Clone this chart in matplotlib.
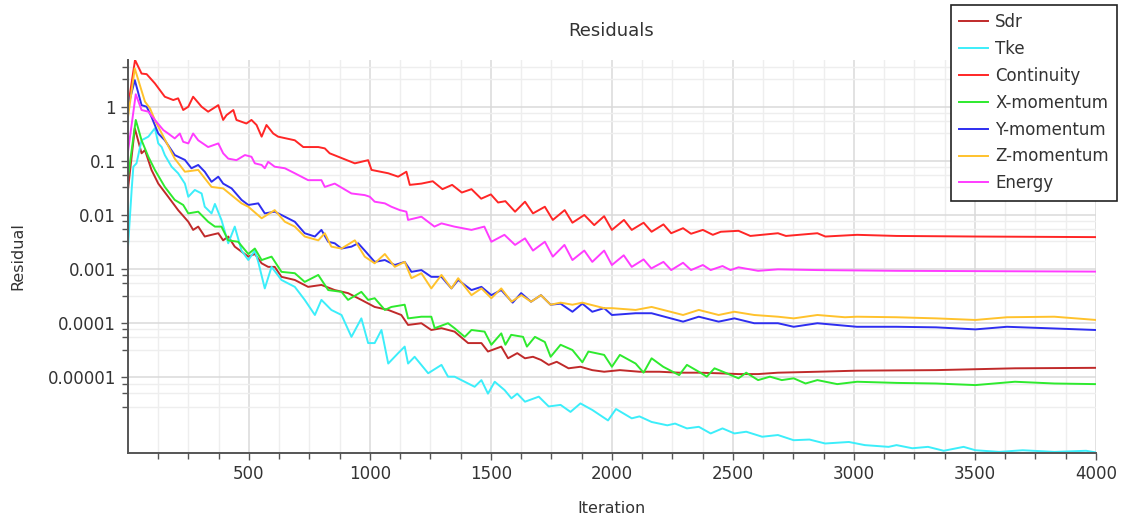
import matplotlib
matplotlib.use("Agg")
import matplotlib.pyplot as plt
from matplotlib.ticker import FixedLocator, NullFormatter

# (iteration, residual) samples for each monitored quantity
sdr = [(1, 0.03), (29, 0.40), (57, 0.138), (71, 0.158), (98, 0.068), (126, 0.038), (167, 0.0217),
       (208, 0.0123), (250, 0.0075), (270, 0.0053), (291, 0.0061), (318, 0.0040), (346, 0.0043),
       (374, 0.0046), (394, 0.0034), (415, 0.0040), (442, 0.0026), (470, 0.0021), (498, 0.0017),
       (525, 0.0019), (553, 0.00128), (580, 0.0011), (607, 0.0011), (635, 0.00072), (690, 0.00063),
       (745, 0.00047), (800, 0.00051), (855, 0.00041), (910, 0.00036), (965, 0.00027), (1020, 0.0002),
       (1076, 0.000176), (1130, 0.000142), (1158, 9.3e-5), (1213, 1.0e-4), (1254, 7.5e-5),
       (1296, 8.1e-5), (1350, 7.0e-5), (1406, 4.3e-5), (1461, 4.3e-5), (1488, 3.0e-5),
       (1543, 3.7e-5), (1571, 2.25e-5), (1609, 2.8e-5), (1641, 2.25e-5), (1674, 2.4e-5),
       (1707, 2.1e-5), (1739, 1.7e-5), (1772, 1.94e-5), (1821, 1.47e-5), (1870, 1.57e-5),
       (1919, 1.36e-5), (1968, 1.27e-5), (2033, 1.36e-5), (2114, 1.27e-5), (2196, 1.27e-5),
       (2278, 1.22e-5), (2359, 1.22e-5), (2441, 1.19e-5), (2523, 1.15e-5), (2604, 1.15e-5),
       (2686, 1.22e-5), (2849, 1.27e-5), (3013, 1.33e-5), (3339, 1.36e-5), (3665, 1.47e-5),
       (4000, 1.5e-5)]

tke = [(1, 0.0026), (16, 0.029), (23, 0.078), (36, 0.09), (57, 0.24), (85, 0.28), (112, 0.40),
       (126, 0.21), (140, 0.18), (153, 0.128), (181, 0.078), (208, 0.059), (236, 0.038),
       (250, 0.0217), (277, 0.029), (305, 0.025), (318, 0.0142), (346, 0.0107), (360, 0.016),
       (387, 0.0081), (415, 0.0030), (442, 0.0061), (470, 0.0022), (498, 0.00147), (525, 0.0022),
       (539, 0.00136), (566, 0.00044), (594, 0.0011), (635, 0.00063), (690, 0.00047),
       (731, 0.00027), (773, 0.000142), (800, 0.00027), (841, 0.000176), (883, 0.000142),
       (924, 5.6e-5), (965, 0.000123), (993, 4.3e-5), (1020, 4.3e-5), (1048, 7.5e-5),
       (1076, 1.8e-5), (1117, 2.8e-5), (1144, 3.7e-5), (1158, 1.8e-5), (1185, 2.4e-5),
       (1241, 1.19e-5), (1296, 1.7e-5), (1323, 1.03e-5), (1350, 1.03e-5), (1433, 6.7e-6),
       (1461, 8.9e-6), (1488, 5.0e-6), (1516, 8.3e-6), (1557, 5.8e-6), (1585, 4.1e-6),
       (1609, 5.0e-6), (1641, 3.55e-6), (1698, 4.4e-6), (1739, 2.9e-6), (1788, 3.1e-6),
       (1829, 2.3e-6), (1870, 3.3e-6), (1919, 2.5e-6), (1984, 1.6e-6), (2017, 2.6e-6),
       (2082, 1.75e-6), (2114, 1.9e-6), (2164, 1.5e-6), (2229, 1.3e-6), (2261, 1.4e-6),
       (2310, 1.14e-6), (2359, 1.22e-6), (2408, 9.2e-7), (2457, 1.14e-6), (2506, 9.2e-7),
       (2555, 9.9e-7), (2621, 8.0e-7), (2686, 8.6e-7), (2751, 6.9e-7), (2816, 7.1e-7),
       (2881, 6.0e-7), (2979, 6.4e-7), (3045, 5.6e-7), (3143, 5.2e-7), (3176, 5.6e-7),
       (3241, 4.9e-7), (3306, 5.2e-7), (3371, 4.4e-7), (3453, 5.2e-7), (3502, 4.5e-7),
       (3600, 4.2e-7), (3697, 4.5e-7), (3828, 4.2e-7), (3959, 4.4e-7), (4000, 4.1e-7)]

continuity = [(1, 1.0), (30, 7.3), (57, 4.1), (78, 4.0), (112, 2.7), (153, 1.53), (188, 1.33),
              (208, 1.43), (229, 0.87), (250, 1.0), (270, 1.53), (305, 1.0), (332, 0.81),
              (353, 0.93), (374, 1.07), (394, 0.57), (408, 0.70), (436, 0.87), (449, 0.57),
              (490, 0.49), (511, 0.57), (532, 0.46), (553, 0.28), (573, 0.46), (601, 0.32),
              (621, 0.28), (690, 0.24), (725, 0.18), (787, 0.18), (814, 0.17), (834, 0.138),
              (938, 0.09), (993, 0.103), (1007, 0.068), (1076, 0.059), (1117, 0.051),
              (1151, 0.063), (1165, 0.036), (1213, 0.038), (1260, 0.042), (1300, 0.030),
              (1340, 0.036), (1380, 0.026), (1420, 0.030), (1460, 0.020), (1500, 0.024),
              (1530, 0.017), (1560, 0.018), (1600, 0.0115), (1641, 0.0176), (1674, 0.0107),
              (1723, 0.0142), (1756, 0.0081), (1805, 0.0123), (1837, 0.0072), (1886, 0.0100),
              (1927, 0.0065), (1968, 0.0095), (2000, 0.0053), (2050, 0.0081), (2082, 0.0053),
              (2131, 0.0072), (2164, 0.0049), (2213, 0.0067), (2245, 0.0046), (2294, 0.0057),
              (2327, 0.0045), (2376, 0.0053), (2417, 0.0043), (2450, 0.0049), (2523, 0.0051),
              (2572, 0.0041), (2686, 0.0046), (2719, 0.0041), (2849, 0.0046), (2882, 0.0040),
              (3013, 0.0043), (3176, 0.0041), (3502, 0.0040), (4000, 0.0039)]

x_momentum = [(1, 0.05), (33, 0.57), (57, 0.24), (85, 0.119), (112, 0.068), (153, 0.033),
              (194, 0.019), (229, 0.0153), (250, 0.0107), (291, 0.0115), (332, 0.0075),
              (360, 0.0061), (387, 0.0061), (415, 0.0034), (456, 0.0032), (498, 0.0019),
              (525, 0.0024), (553, 0.00147), (594, 0.0017), (635, 0.00089), (690, 0.00084),
              (731, 0.00058), (787, 0.00078), (828, 0.00041), (883, 0.00038), (910, 0.00027),
              (965, 0.00038), (993, 0.00027), (1020, 0.00029), (1062, 0.000176), (1089, 0.0002),
              (1144, 0.00022), (1158, 0.000123), (1213, 0.000132), (1254, 0.000132),
              (1268, 8.1e-5), (1323, 1.0e-4), (1350, 8.1e-5), (1392, 5.6e-5), (1420, 7.5e-5),
              (1474, 7.0e-5), (1502, 4.0e-5), (1543, 6.5e-5), (1560, 4.0e-5), (1584, 6.1e-5),
              (1633, 5.6e-5), (1649, 3.7e-5), (1682, 5.6e-5), (1723, 4.5e-5), (1747, 2.4e-5),
              (1788, 4.0e-5), (1837, 3.2e-5), (1878, 1.9e-5), (1903, 3.0e-5), (1968, 2.6e-5),
              (2000, 1.57e-5), (2033, 2.6e-5), (2098, 1.8e-5), (2131, 1.22e-5), (2164, 2.25e-5),
              (2212, 1.57e-5), (2278, 1.1e-5), (2310, 1.7e-5), (2359, 1.27e-5), (2392, 1.03e-5),
              (2424, 1.47e-5), (2474, 1.19e-5), (2523, 9.6e-6), (2555, 1.22e-5), (2604, 8.9e-6),
              (2653, 1.03e-5), (2702, 8.9e-6), (2751, 9.6e-6), (2800, 7.7e-6), (2849, 8.9e-6),
              (2931, 7.5e-6), (3013, 8.3e-6), (3176, 7.9e-6), (3339, 7.7e-6), (3502, 7.2e-6),
              (3665, 8.3e-6), (3828, 7.7e-6), (4000, 7.5e-6)]

y_momentum = [(1, 1.0), (29, 3.1), (57, 1.07), (78, 1.0), (98, 0.65), (126, 0.32), (153, 0.24),
              (194, 0.128), (236, 0.104), (263, 0.073), (291, 0.084), (318, 0.063), (346, 0.041),
              (374, 0.051), (394, 0.038), (429, 0.031), (470, 0.019), (498, 0.0153),
              (539, 0.0164), (566, 0.0107), (607, 0.0115), (635, 0.010), (690, 0.0075),
              (731, 0.0046), (773, 0.0040), (800, 0.0053), (828, 0.0032), (855, 0.0030),
              (883, 0.0024), (924, 0.0026), (952, 0.0030), (979, 0.0022), (1020, 0.00136),
              (1062, 0.00147), (1103, 0.00119), (1144, 0.00136), (1172, 0.00089), (1213, 0.00096),
              (1254, 0.00072), (1296, 0.00072), (1337, 0.00044), (1365, 0.00063), (1420, 0.00041),
              (1461, 0.00047), (1502, 0.00033), (1543, 0.00041), (1590, 0.00024), (1625, 0.00036),
              (1666, 0.00025), (1707, 0.00033), (1747, 0.00022), (1788, 0.00023),
              (1837, 0.000163), (1878, 0.00023), (1919, 0.000163), (1968, 0.00019),
              (2000, 0.000142), (2098, 0.000153), (2164, 0.000153), (2294, 0.000107),
              (2359, 0.000132), (2441, 0.000107), (2506, 0.000123), (2588, 0.0001),
              (2686, 0.0001), (2751, 8.6e-5), (2849, 1.0e-4), (2963, 9.0e-5), (3012, 8.6e-5),
              (3176, 8.6e-5), (3339, 8.4e-5), (3502, 7.7e-5), (3632, 8.6e-5), (3828, 8.0e-5),
              (4000, 7.5e-5)]

z_momentum = [(1, 0.65), (29, 5.1), (50, 2.5), (71, 1.24), (92, 0.93), (112, 0.567), (194, 0.11),
              (236, 0.063), (291, 0.068), (346, 0.033), (394, 0.031), (470, 0.0164),
              (498, 0.0142), (553, 0.0087), (607, 0.0123), (649, 0.0075), (690, 0.0061),
              (731, 0.0040), (787, 0.0034), (814, 0.0046), (841, 0.0026), (883, 0.0024),
              (938, 0.0034), (979, 0.0017), (1020, 0.00128), (1062, 0.0019), (1103, 0.0011),
              (1144, 0.00136), (1172, 0.00068), (1213, 0.00084), (1254, 0.00044), (1296, 0.00078),
              (1337, 0.00044), (1365, 0.00068), (1420, 0.00033), (1461, 0.00044), (1502, 0.00029),
              (1543, 0.00044), (1585, 0.00025), (1626, 0.00033), (1666, 0.00025), (1707, 0.00033),
              (1747, 0.00022), (1788, 0.00024), (1837, 0.00022), (1878, 0.00024), (1968, 0.00019),
              (2000, 0.00019), (2098, 0.000176), (2164, 0.0002), (2294, 0.000142),
              (2359, 0.000176), (2441, 0.000142), (2506, 0.000163), (2588, 0.000142),
              (2686, 0.000132), (2751, 0.000123), (2849, 0.000142), (2963, 0.000129),
              (3012, 0.000132), (3176, 0.000129), (3339, 0.000123), (3502, 0.000115),
              (3632, 0.000129), (3828, 0.000132), (4000, 0.000115)]

energy = [(1, 0.15), (33, 1.7), (57, 0.87), (85, 0.81), (112, 0.57), (147, 0.37), (167, 0.32),
          (194, 0.26), (215, 0.32), (229, 0.225), (250, 0.21), (270, 0.32), (291, 0.24),
          (332, 0.18), (374, 0.21), (394, 0.138), (415, 0.11), (449, 0.103), (484, 0.128),
          (511, 0.119), (525, 0.09), (553, 0.084), (566, 0.073), (580, 0.096), (607, 0.078),
          (649, 0.073), (690, 0.059), (745, 0.044), (800, 0.044), (814, 0.033), (855, 0.038),
          (924, 0.025), (979, 0.0233), (1000, 0.0217), (1020, 0.0176), (1062, 0.0164),
          (1089, 0.0142), (1124, 0.0123), (1151, 0.0115), (1158, 0.0081), (1213, 0.0093),
          (1267, 0.0061), (1296, 0.0070), (1349, 0.0061), (1420, 0.0053), (1473, 0.0061),
          (1502, 0.0032), (1556, 0.0043), (1600, 0.0028), (1641, 0.0037), (1674, 0.0022),
          (1723, 0.0032), (1756, 0.0017), (1804, 0.0028), (1837, 0.00147), (1886, 0.0022),
          (1919, 0.00136), (1968, 0.0022), (2000, 0.00119), (2049, 0.0018), (2082, 0.0011),
          (2131, 0.00151), (2163, 0.00103), (2213, 0.00136), (2245, 0.00096), (2294, 0.00131),
          (2327, 0.00096), (2376, 0.00119), (2408, 0.00096), (2457, 0.00114), (2490, 0.00096),
          (2523, 0.00108), (2604, 0.00093), (2686, 0.00099), (2849, 0.00096), (3176, 0.00093),
          (4000, 0.0009)]

series_names = ["Sdr", "Tke", "Continuity", "X-momentum", "Y-momentum", "Z-momentum", "Energy"]
series_data = [sdr, tke, continuity, x_momentum, y_momentum, z_momentum, energy]
series_colors = ["#C02A2A", "#3CEEFA", "#FF2626", "#2EEA2E", "#2E2EF0", "#FFC22C", "#FF3CFF"]

y_tick_values = [1, 0.1, 0.01, 0.001, 0.0001, 0.00001]
y_tick_labels = ["1", "0.1", "0.01", "0.001", "0.0001", "0.00001"]
x_tick_values = [500, 1000, 1500, 2000, 2500, 3000, 3500, 4000]

text_color = "#333333"
plt.rcParams["font.family"] = ["DejaVu Sans"]

fig = plt.figure(figsize=(11.21, 5.20), dpi=100)
ax = fig.add_axes([0.1142, 0.1288, 0.8635, 0.7558])

for name, data, color in zip(series_names, series_data, series_colors):
    its = [p[0] for p in data]
    vals = [p[1] for p in data]
    ax.plot(its, vals, color=color, lw=1.4, label=name, solid_joinstyle="round")

ax.set_yscale("log")
ax.set_xlim(1, 4000)
ax.set_ylim(4.0e-7, 7.3)

# decade ticks with three intermediate minor ticks per decade
minor_y = []
for dec in [1e-5, 1e-4, 1e-3, 1e-2, 1e-1, 1.0]:
    minor_y += [3.25 * dec, 5.5 * dec, 7.75 * dec]
minor_y += [2.8e-6, 5.2e-6, 7.6e-6]
ax.yaxis.set_major_locator(FixedLocator(y_tick_values))
ax.set_yticklabels(y_tick_labels)
ax.yaxis.set_minor_locator(FixedLocator(minor_y))
ax.yaxis.set_minor_formatter(NullFormatter())

ax.xaxis.set_major_locator(FixedLocator(x_tick_values))
ax.xaxis.set_minor_locator(FixedLocator([v for v in range(125, 4000, 125) if v % 500]))
ax.set_xticklabels([str(v) for v in x_tick_values])

ax.grid(which="major", color="#dadada", lw=1.1)
ax.grid(which="minor", color="#eeeeee", lw=1.0)
ax.set_axisbelow(True)

for side in ("top", "right"):
    ax.spines[side].set_visible(False)
for side in ("left", "bottom"):
    ax.spines[side].set_color("#555555")
    ax.spines[side].set_linewidth(1.4)

ax.tick_params(which="both", direction="out", color="#555555", width=1.0,
               labelsize=12, labelcolor=text_color)
ax.tick_params(which="major", length=5, pad=3.5)
ax.tick_params(which="minor", length=4)

fig.text(0.5455, 0.940, "Residuals", ha="center", va="center", fontsize=13, color=text_color)
fig.text(0.5455, 0.023, "Iteration", ha="center", va="center", fontsize=11.5, color=text_color)
fig.text(0.016, 0.5067, "Residual", ha="center", va="center", rotation=90, fontsize=11.5,
         color=text_color)

leg = fig.legend(loc="upper right", bbox_to_anchor=(0.9964, 0.9904), frameon=True,
                 fancybox=False, fontsize=12, borderpad=0.5, handlelength=1.75,
                 handletextpad=0.4, labelspacing=0.53, borderaxespad=0.0)
frame = leg.get_frame()
frame.set_edgecolor("#222222")
frame.set_linewidth(1.2)
frame.set_facecolor("white")
frame.set_alpha(1.0)
for t in leg.get_texts():
    t.set_color(text_color)

fig.savefig("out.png", dpi=100)
